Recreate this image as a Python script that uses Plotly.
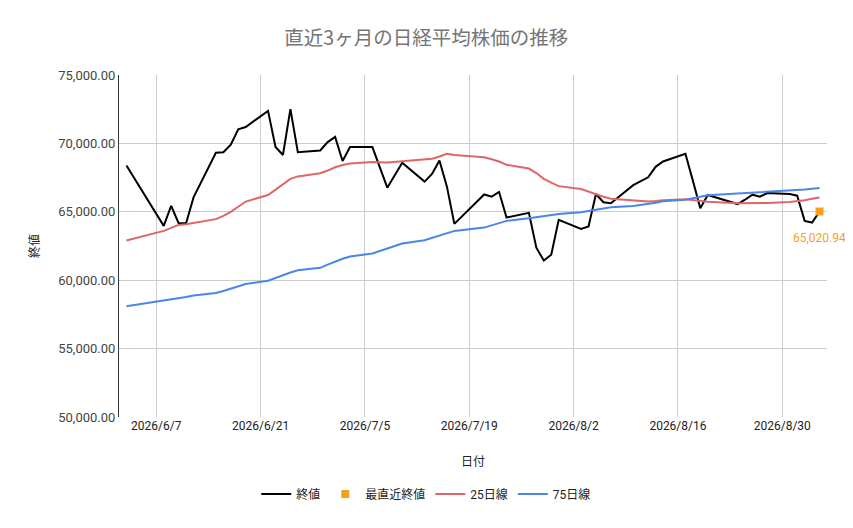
import plotly.graph_objects as go

# 日付 (取引日)
dates = [
    "2026-06-03", "2026-06-08", "2026-06-09", "2026-06-10", "2026-06-11", "2026-06-12",
    "2026-06-15", "2026-06-16", "2026-06-17", "2026-06-18", "2026-06-19",
    "2026-06-22", "2026-06-23", "2026-06-24", "2026-06-25", "2026-06-26",
    "2026-06-29", "2026-06-30", "2026-07-01", "2026-07-02", "2026-07-03",
    "2026-07-06", "2026-07-08", "2026-07-10",
    "2026-07-13", "2026-07-14", "2026-07-15", "2026-07-16", "2026-07-17",
    "2026-07-21", "2026-07-22", "2026-07-23", "2026-07-24",
    "2026-07-27", "2026-07-28", "2026-07-29", "2026-07-30", "2026-07-31",
    "2026-08-03", "2026-08-04", "2026-08-05", "2026-08-06", "2026-08-07",
    "2026-08-10", "2026-08-12", "2026-08-13", "2026-08-14",
    "2026-08-17", "2026-08-18", "2026-08-19", "2026-08-20",
    "2026-08-24", "2026-08-25", "2026-08-26", "2026-08-27", "2026-08-28",
    "2026-08-31", "2026-09-01", "2026-09-02", "2026-09-03", "2026-09-04",
]

# 終値
close = [
    68382, 63971, 65441, 64169, 64169, 66051,
    69316, 69360, 69904, 71029, 71198,
    72375, 69743, 69155, 72500, 69360,
    69485, 70095, 70478, 68713, 69728,
    69728, 66765, 68581,
    67206, 67772, 68750, 66838, 64118,
    66265, 66103, 66449, 64581,
    64926, 62375, 61434, 61860, 64412,
    63750, 63934, 66302, 65699, 65625,
    66949, 67522, 68287, 68677,
    69243, 67280, 65257, 66228,
    65566, 65882, 66250, 66103, 66375,
    66301, 66176, 64338, 64213, 65020.94,
]

# 25日線
ma25 = [
    62904, 63603, 63824, 64044, 64096, 64191,
    64463, 64706, 65000, 65368, 65750,
    66228, 66618, 67022, 67404, 67588,
    67816, 68015, 68257, 68419, 68529,
    68640, 68603, 68691,
    68824, 68875, 69044, 69243, 69155,
    68993, 68838, 68677, 68434,
    68162, 67831, 67404, 67132, 66875,
    66669, 66471, 66265, 66103, 65956,
    65809, 65750, 65787, 65846,
    65919, 65846, 65772, 65735,
    65625, 65625, 65625, 65632, 65647,
    65713, 65757, 65846, 65956, 66051,
]

# 75日線
ma75 = [
    58088, 58507, 58566, 58676, 58765, 58875,
    59066, 59206, 59360, 59537, 59721,
    59956, 60169, 60368, 60566, 60721,
    60904, 61140, 61360, 61566, 61728,
    61949, 62316, 62684,
    62926, 63103, 63279, 63456, 63603,
    63846, 64007, 64176, 64338,
    64522, 64603, 64684, 64765, 64838,
    64963, 65051, 65132, 65235, 65331,
    65426, 65566, 65662, 65772,
    65882, 65993, 66103, 66213,
    66338, 66368, 66397, 66426, 66463,
    66544, 66581, 66632, 66691, 66743,
]

tick_dates = ["2026-06-07", "2026-06-21", "2026-07-05", "2026-07-19",
              "2026-08-02", "2026-08-16", "2026-08-30"]
y_ticks = [50000, 55000, 60000, 65000, 70000, 75000]

FONT = "Roboto, Noto Sans CJK JP, sans-serif"
ORANGE = "#f4a21b"

fig = go.Figure()

fig.add_trace(go.Scatter(x=dates, y=close, name="終値", mode="lines",
                         line=dict(color="#000000", width=2)))

fig.add_trace(go.Scatter(x=[dates[-1]], y=[close[-1]], name="最直近終値",
                         mode="markers",
                         marker=dict(symbol="square", size=8, color=ORANGE)))

fig.add_trace(go.Scatter(x=dates, y=ma25, name="25日線", mode="lines",
                         line=dict(color="#e06666", width=2)))

fig.add_trace(go.Scatter(x=dates, y=ma75, name="75日線", mode="lines",
                         line=dict(color="#4a86e8", width=2)))

fig.add_annotation(x=dates[-1], y=close[-1], text=f"{close[-1]:,.2f}",
                   showarrow=False, yshift=-26,
                   font=dict(family=FONT, size=12, color=ORANGE))

# page body has an 8px margin, so the figure is drawn 8px smaller
fig.update_layout(
    width=845, height=520,
    margin=dict(l=111, r=26, t=67, b=111),
    paper_bgcolor="white", plot_bgcolor="white",
    font=dict(family=FONT, size=12, color="#222222"),
    title=dict(text="直近3ヶ月の日経平均株価の推移", x=0.495, xanchor="center",
               y=0.942, yanchor="middle",
               font=dict(family="Noto Sans CJK JP, sans-serif", size=19.5, color="#757575")),
    showlegend=True,
    legend=dict(orientation="h", x=0.434, xanchor="center", y=-0.225, yanchor="middle",
                font=dict(size=12, color="#222222"), itemwidth=30),
)

fig.update_xaxes(
    type="date",
    range=["2026-06-02", "2026-09-05"],
    tickvals=tick_dates, tickformat="%Y/%-m/%-d",
    showgrid=True, gridcolor="#cccccc", gridwidth=1,
    showline=False, zeroline=False, ticks="",
    tickfont=dict(size=12, color="#222222"),
    title=dict(text="日付", standoff=25, font=dict(size=12, color="#222222")),
)

fig.update_yaxes(
    range=[50000, 75000],
    tickvals=y_ticks, tickformat=",.2f",
    showgrid=True, gridcolor="#cccccc", gridwidth=1,
    showline=True, linecolor="#333333", linewidth=1,
    zeroline=False, ticks="",
    tickfont=dict(size=13, color="#444444"),
    title=dict(text="終値", standoff=16, font=dict(size=12, color="#222222")),
)

fig.write_html("out.html")
